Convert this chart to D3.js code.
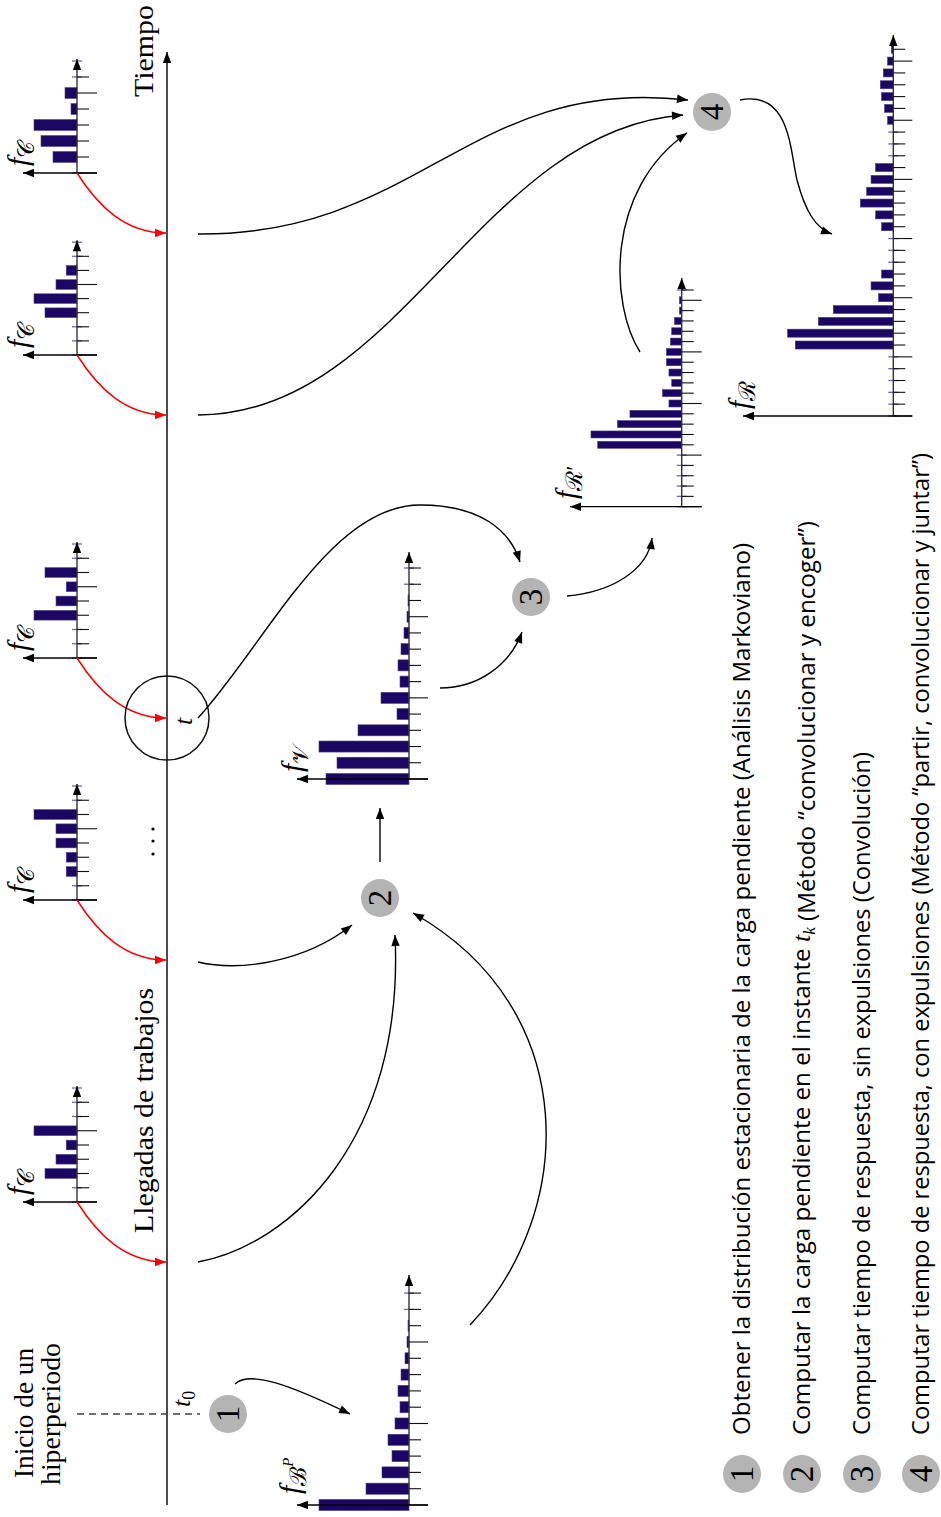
<!DOCTYPE html>
<html><head><meta charset="utf-8">
<script src="https://cdn.jsdelivr.net/npm/d3@7"></script>
<style>body{margin:0;background:#fff}svg{display:block}</style>
</head><body>
<svg id="fig" width="941" height="1517"></svg>
<script>
// ---- distributions (probability per bin, %) ----
const binsBP = [36, 17.2, 10.8, 6.8, 8.4, 5.6, 3.6, 4.4, 3.2, 1.6, 0.8, 0.4, 0, 0];
const binsV  = [33.2, 28.8, 36, 20.4, 4.8, 11.2, 3.6, 4.4, 3.2, 2, 0.8, 0.4, 0, 0];
const binsRp = [0, 0, 0, 0, 0, 0, 33.6, 36.3, 25.7, 20.7, 5.1, 7.7, 4, 5.1, 6.1, 6.1, 4.5, 4, 2.9, 0.9, 0.9, 0];
const binsR  = [0, 0, 0, 0, 0, 0, 39.2, 42.3, 30, 24, 5.9, 8.9, 4.7, 0, 0, 0, 4.7, 7.1, 13.2, 10.7, 8.9, 7.1, 0, 0, 0, 2.3, 3.5, 4.7, 5.2, 4, 2.3, 0.8];
// execution-time distributions of the arriving jobs, in arrival order
const binsC1 = [0, 0, 12.8, 8.4, 4.3, 17.2, 0, 0, 0];
const binsC2 = [0, 0, 4.3, 4.3, 8.4, 8.4, 17.2, 0, 0];
const binsC3 = [0, 0, 0, 17.2, 8.4, 4.3, 12.8, 0, 0];
const binsC4 = [0, 0, 0, 12.8, 17.2, 8.4, 4.3, 0, 0];
const binsC5 = [0, 9.6, 14.4, 17.2, 2.4, 4.8, 0, 0];

const legendItems = [
  "Obtener la distribución estacionaria de la carga pendiente  (Análisis Markoviano)",
  "Computar la carga pendiente en el instante |t_k| (Método “convolucionar y encoger”)",
  "Computar tiempo de respuesta, sin expulsiones (Convolución)",
  "Computar tiempo de respuesta, con expulsiones (Método “partir, convolucionar y juntar”)"
];

// ---- drawing ----
const SERIF = "'Liberation Serif','DejaVu Serif',serif";
const SANS = "'Open Sans','Noto Sans','DejaVu Sans',sans-serif";
const NAVY = "#1b0763";
const svg = d3.select("#fig");
svg.append("rect").attr("width", 941).attr("height", 1517).attr("fill", "#fff");

const defs = svg.append("defs");
function marker(id, color) {
  defs.append("marker").attr("id", id)
    .attr("viewBox", "-12 -6 13 12").attr("refX", 0).attr("refY", 0)
    .attr("markerWidth", 13).attr("markerHeight", 12)
    .attr("markerUnits", "userSpaceOnUse").attr("orient", "auto")
    .append("path").attr("d", "M0,0 L-11,-4.2 L-11,4.2 Z").attr("fill", color);
}
marker("ak", "#000");
marker("ar", "#f00");

// text rotated to read bottom-to-top; (x, y) = baseline position of the first glyph
function vtext(x, y) {
  return svg.append("text").attr("transform", `translate(${x},${y}) rotate(-90)`);
}

// value scale shared by all histograms (% -> px)
const val = d3.scaleLinear().domain([0, 10]).range([0, 25]);

function histogram(cfg, bins) {
  const g = svg.append("g");
  const n = bins.length;
  const yIdx = d3.scaleLinear().domain([0, n - 1]).range([cfg.baseY, cfg.baseY - (n - 1) * cfg.step]);
  const band = cfg.step * 0.68;
  const items = bins.map((v, i) => ({ v, i }));
  g.selectAll("rect").data(items.filter(d => d.v > 0)).join("rect")
    .attr("x", d => cfg.axisX - val(d.v)).attr("y", d => yIdx(d.i) - band / 2)
    .attr("width", d => val(d.v)).attr("height", band)
    .attr("fill", NAVY).attr("stroke", "#4a3f94").attr("stroke-width", 0.6);
  // zero-probability bins
  g.selectAll("line.z").data(items.filter(d => d.v === 0)).join("line").attr("class", "z")
    .attr("x1", cfg.axisX - 5).attr("x2", cfg.axisX + 5)
    .attr("y1", d => yIdx(d.i)).attr("y2", d => yIdx(d.i))
    .attr("stroke", "#6d66b3").attr("stroke-width", 1.3);
  // vertical axis
  g.append("line").attr("x1", cfg.axisX).attr("x2", cfg.axisX)
    .attr("y1", cfg.baseY).attr("y2", cfg.tipTop)
    .attr("stroke", "#333").attr("stroke-width", 1.4).attr("marker-end", "url(#ak)");
  // ticks
  const nt = cfg.ticks ?? n;
  g.selectAll("line.t").data(d3.range(nt)).join("line").attr("class", "t")
    .attr("x1", cfg.axisX).attr("x2", i => cfg.axisX + (i % 5 === 0 ? cfg.long : cfg.short))
    .attr("y1", i => yIdx(i)).attr("y2", i => yIdx(i))
    .attr("stroke", "#111").attr("stroke-width", 1.1);
  // value axis
  g.append("line").attr("x1", cfg.axisX + cfg.long).attr("x2", cfg.tipLeft)
    .attr("y1", cfg.baseY).attr("y2", cfg.baseY)
    .attr("stroke", "#000").attr("stroke-width", 1.3).attr("marker-end", "url(#ak)");
  // label
  const t = vtext(cfg.labX, cfg.labY).attr("font-family", SERIF).attr("font-size", 30);
  t.append("tspan").attr("font-style", "italic").text("f");
  t.append("tspan").attr("font-size", 23).attr("dy", 6).text(cfg.sub);
  if (cfg.sup) t.append("tspan").attr("font-size", 15).attr("dy", -13).attr("font-style", "italic").text(cfg.sup);
}

// timeline
svg.append("line").attr("x1", 167).attr("x2", 167).attr("y1", 1505).attr("y2", 52)
  .attr("stroke", "#111").attr("stroke-width", 1.5).attr("marker-end", "url(#ak)");

vtext(153, 97).attr("font-family", SERIF).attr("font-size", 28).attr("textLength", 92)
  .attr("lengthAdjust", "spacingAndGlyphs").text("Tiempo");
vtext(153, 1233).attr("font-family", SERIF).attr("font-size", 28).attr("textLength", 245)
  .attr("lengthAdjust", "spacingAndGlyphs").text("Llegadas de trabajos");
vtext(33, 1478).attr("font-family", SERIF).attr("font-size", 28).attr("textLength", 130)
  .attr("lengthAdjust", "spacingAndGlyphs").text("Inicio de un");
vtext(60, 1485).attr("font-family", SERIF).attr("font-size", 28).attr("textLength", 142)
  .attr("lengthAdjust", "spacingAndGlyphs").text("hiperperiodo");

// start of the hyperperiod
svg.append("line").attr("x1", 77).attr("x2", 200).attr("y1", 1414).attr("y2", 1414)
  .attr("stroke", "#444").attr("stroke-width", 1.3).attr("stroke-dasharray", "7,5");
{
  const t = vtext(190, 1407).attr("font-family", SERIF).attr("font-size", 26);
  t.append("tspan").attr("font-style", "italic").text("t");
  t.append("tspan").attr("font-size", 18).attr("dy", 5).text("0");
}

// arrivals: histogram of the arriving job and its red arrow to the time axis
const arrivals = [
  { bins: binsC1, baseY: 1202, step: 14.25 },
  { bins: binsC2, baseY: 900, step: 14.25 },
  { bins: binsC3, baseY: 658, step: 14.25 },
  { bins: binsC4, baseY: 355, step: 14.1 },
  { bins: binsC5, baseY: 173, step: 16 }
];
arrivals.forEach(a => {
  const n = a.bins.length;
  histogram({ axisX: 77, baseY: a.baseY, step: a.step, tipTop: a.baseY - (n - 1) * a.step - 2,
    tipLeft: 23, long: 20, short: 12, ticks: n - 1, labX: 28, labY: a.baseY - 7, sub: "𝒞" }, a.bins);
  const p = d3.path();
  p.moveTo(77, a.baseY);
  p.bezierCurveTo(98, a.baseY + 33, 125, a.baseY + 60, 166, a.baseY + 60);
  svg.append("path").attr("d", p.toString()).attr("fill", "none")
    .attr("stroke", "#f00").attr("stroke-width", 1.5).attr("marker-end", "url(#ar)");
});

// vertical ellipsis between arrivals
svg.selectAll("circle.dots").data([829, 841, 854]).join("circle").attr("class", "dots")
  .attr("cx", 153).attr("cy", d => d).attr("r", 1.6).attr("fill", "#000");

// instant t
svg.append("circle").attr("cx", 167).attr("cy", 718).attr("r", 42)
  .attr("fill", "none").attr("stroke", "#111").attr("stroke-width", 1.5);
vtext(192, 725).attr("font-family", SERIF).attr("font-size", 26).attr("font-style", "italic").text("t");

// main distributions
histogram({ axisX: 409, baseY: 1505, step: 16.3, tipTop: 1275, tipLeft: 297, long: 19, short: 12,
  labX: 300, labY: 1494, sub: "ℬ", sup: "P" }, binsBP);
histogram({ axisX: 409, baseY: 779, step: 16.23, tipTop: 552, tipLeft: 297, long: 19, short: 12,
  labX: 302, labY: 772, sub: "𝒱" }, binsV);
histogram({ axisX: 681.7, baseY: 506.7, step: 10.32, tipTop: 278, tipLeft: 570, long: 20, short: 12,
  labX: 576, labY: 499, sub: "ℛ′" }, binsRp);
histogram({ axisX: 893.3, baseY: 416, step: 11.83, tipTop: 35, tipLeft: 743, long: 19, short: 12,
  labX: 749, labY: 409, sub: "ℛ" }, binsR);

// step markers
function step(cx, cy, label) {
  svg.append("circle").attr("cx", cx).attr("cy", cy).attr("r", 19).attr("fill", "#b4b4b4");
  svg.append("text").attr("transform", `translate(${cx},${cy}) rotate(-90)`)
    .attr("text-anchor", "middle").attr("dy", "0.34em")
    .attr("font-family", SERIF).attr("font-size", 33).text(label);
}
step(228, 1414, "1");
step(380, 898, "2");
step(531, 597, "3");
step(712, 112, "4");

// connectors
function connector(pts) {
  const p = d3.path();
  p.moveTo(pts[0][0], pts[0][1]);
  for (let i = 1; i < pts.length; i += 3)
    p.bezierCurveTo(pts[i][0], pts[i][1], pts[i + 1][0], pts[i + 1][1], pts[i + 2][0], pts[i + 2][1]);
  svg.append("path").attr("d", p.toString()).attr("fill", "none")
    .attr("stroke", "#000").attr("stroke-width", 1.4).attr("marker-end", "url(#ak)");
}
connector([[235, 1384], [250, 1370], [290, 1385], [350, 1414]]);
connector([[198, 1262], [290, 1245], [405, 1140], [395, 935]]);
connector([[198, 962], [240, 972], [305, 962], [352, 925]]);
connector([[470, 1325], [575, 1215], [585, 1010], [413, 913]]);
connector([[380, 862], [380, 845], [380, 825], [380, 808]]);
connector([[198, 718], [265, 645], [330, 505], [420, 505], [480, 505], [510, 530], [520, 562]]);
connector([[440, 688], [478, 688], [510, 665], [522, 632]]);
connector([[567, 596], [612, 592], [648, 570], [652, 538]]);
connector([[640, 352], [610, 305], [605, 190], [687, 133]]);
connector([[198, 415], [400, 415], [480, 130], [683, 115]]);
connector([[198, 234], [420, 236], [470, 75], [688, 100]]);
connector([[740, 100], [790, 90], [790, 150], [797, 180], [805, 210], [815, 228], [832, 234]]);

// legend
const legendX = [742, 802, 862, 921];
const legendLen = [892, 914, 683, 982];
legendItems.forEach((s, i) => {
  step(legendX[i], 1474, String(i + 1));
  const t = vtext(legendX[i] + 8, 1435).attr("font-family", SANS).attr("font-size", 24)
    .attr("textLength", legendLen[i]).attr("lengthAdjust", "spacingAndGlyphs");
  s.split("|").forEach((part, k) => {
    if (k % 2 === 1) {
      const [a, b] = part.split("_");
      t.append("tspan").attr("font-family", SERIF).attr("font-style", "italic").attr("font-size", 26).text(a);
      t.append("tspan").attr("font-family", SERIF).attr("font-style", "italic").attr("font-size", 17).attr("dy", 5).text(b);
      t.append("tspan").attr("dy", -5).text("");
    } else t.append("tspan").text(part);
  });
});
</script>
</body></html>
